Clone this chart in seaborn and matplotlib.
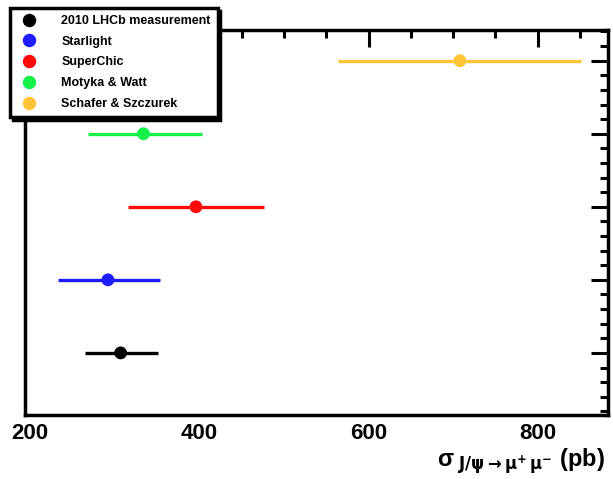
import matplotlib
matplotlib.use("Agg")
import matplotlib.pyplot as plt
from matplotlib.ticker import MultipleLocator
import seaborn as sns
import pandas as pd

models = ["2010 LHCb measurement", "Starlight", "SuperChic", "Motyka & Watt", "Schafer & Szczurek"]
sigma = [307, 292, 396, 334, 708]
err_low = [265, 233, 316, 268, 564]
err_high = [351, 353, 476, 403, 851]
ypos = [1, 2, 3, 4, 5]
colors = ["#000000", "#1c1cff", "#ff0a0a", "#14f04a", "#ffc438"]

df = pd.DataFrame({"model": models, "sigma": sigma, "lo": err_low, "hi": err_high, "y": ypos})

sns.set_style("white")
plt.rcParams["font.family"] = ["Liberation Sans", "DejaVu Sans"]
plt.rcParams["text.color"] = "black"
plt.rcParams["xtick.color"] = "black"
plt.rcParams["ytick.color"] = "black"
plt.rcParams["mathtext.default"] = "regular"

fig = plt.figure(figsize=(6.13, 4.79), dpi=100)
ax = fig.add_axes([25 / 613, 1 - 415 / 479, 583 / 613, 385 / 479])

# horizontal error bars
for _, row in df.iterrows():
    c = colors[models.index(row["model"])]
    ax.hlines(row["y"], row["lo"], row["hi"], color=c, lw=2.4, zorder=2)

sns.scatterplot(data=df, x="sigma", y="y", hue="model", palette=colors,
                s=85, edgecolor="none", ax=ax, zorder=3, legend=True)

ax.set_xlim(194, 883)
ax.set_ylim(0.15, 5.42)
ax.xaxis.set_major_locator(MultipleLocator(200))
ax.xaxis.set_minor_locator(MultipleLocator(50))
ax.yaxis.set_major_locator(MultipleLocator(1))
ax.yaxis.set_minor_locator(MultipleLocator(0.2))
ax.tick_params(which="both", direction="in", top=True, right=True, width=2.2)
ax.tick_params(which="major", length=12)
ax.tick_params(which="minor", length=6)
ax.tick_params(axis="x", which="major", labelsize=16, pad=6)
for lab in ax.get_xticklabels():
    lab.set_fontweight("bold")
ax.set_yticklabels([])
ax.set_xlabel("")
ax.set_ylabel("")
for sp in ax.spines.values():
    sp.set_linewidth(2.5)
    sp.set_color("black")

handles, labels = ax.get_legend_handles_labels()
ax.get_legend().remove()
leg = fig.legend(handles, labels, loc="upper left", bbox_to_anchor=(10 / 613, 1 - 8 / 479),
                 bbox_transform=fig.transFigure, borderaxespad=0, frameon=True, fancybox=False,
                 shadow={"color": "black", "alpha": 1}, borderpad=0.55, labelspacing=0.7,
                 handletextpad=1.55, prop={"size": 9, "weight": "bold"}, markerscale=1.05)
leg.get_frame().set_edgecolor("black")
leg.get_frame().set_linewidth(2.5)
leg.set_zorder(10)

fig.text(0.987, 0.004,
         r"$\sigma_{\ \mathbf{J/\psi \rightarrow \mu^{+}\, \mu^{-}}}$ (pb)",
         ha="right", va="bottom", fontsize=17, fontweight="bold")

fig.savefig("out.png", dpi=100)
